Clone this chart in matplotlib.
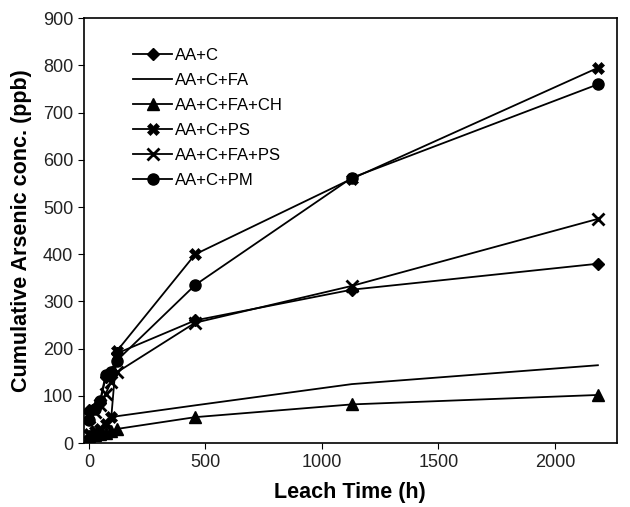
import matplotlib
matplotlib.use('Agg')
import matplotlib.pyplot as plt

plt.rcParams['font.family'] = ['Liberation Sans', 'DejaVu Sans']

# leach time (h)
hours = [0, 24, 48, 72, 96, 120, 456, 1128, 2184]

aa_c = [70, 75, 85, 140, 145, 190, 260, 325, 380]
aa_c_fa = [18, 22, 30, 40, 50, 57, 80, 125, 165]
aa_c_fa_ch = [15, 17, 20, 22, 25, 30, 55, 82, 102]
aa_c_ps = [20, 25, 30, 40, 55, 195, 400, 560, 795]
aa_c_fa_ps = [55, 65, 80, 105, 130, 150, 255, 333, 475]
aa_c_pm = [50, 72, 90, 145, 150, 175, 335, 562, 760]

fig = plt.figure(figsize=(6.3, 5.07), dpi=100)
ax = fig.add_axes([0.133, 0.126, 0.846, 0.838])

ax.plot(hours, aa_c, 'k-', marker='D', ms=6, lw=1.3, label='AA+C')
ax.plot(hours, aa_c_fa, 'k-', lw=1.3, label='AA+C+FA')
ax.plot(hours, aa_c_fa_ch, 'k-', marker='^', ms=8, lw=1.3, label='AA+C+FA+CH')
ax.plot(hours, aa_c_ps, 'k-', marker='X', ms=9, mew=0.5, lw=1.3, label='AA+C+PS')
ax.plot(hours, aa_c_fa_ps, 'k-', marker='x', ms=8, mew=2, lw=1.3, label='AA+C+FA+PS')
ax.plot(hours, aa_c_pm, 'k-', marker='o', ms=8, lw=1.3, label='AA+C+PM')

ax.set_xlim(-22, 2265)
ax.set_ylim(0, 900)
ax.set_xticks([0, 500, 1000, 1500, 2000])
ax.set_yticks(range(0, 901, 100))
ax.tick_params(labelsize=13, direction='out', length=4, labelcolor='#222222')
for s in ax.spines.values():
    s.set_linewidth(1.2)

ax.set_xlabel('Leach Time (h)', fontsize=15.5, fontweight='bold', labelpad=8)
ax.set_ylabel('Cumulative Arsenic conc. (ppb)', fontsize=15.5, fontweight='bold', labelpad=8)

ax.legend(loc='upper left', bbox_to_anchor=(0.065, 0.965), frameon=False,
          fontsize=12, handlelength=2.3, handletextpad=0.2, labelspacing=0.6)

fig.savefig('out.png', dpi=100)
